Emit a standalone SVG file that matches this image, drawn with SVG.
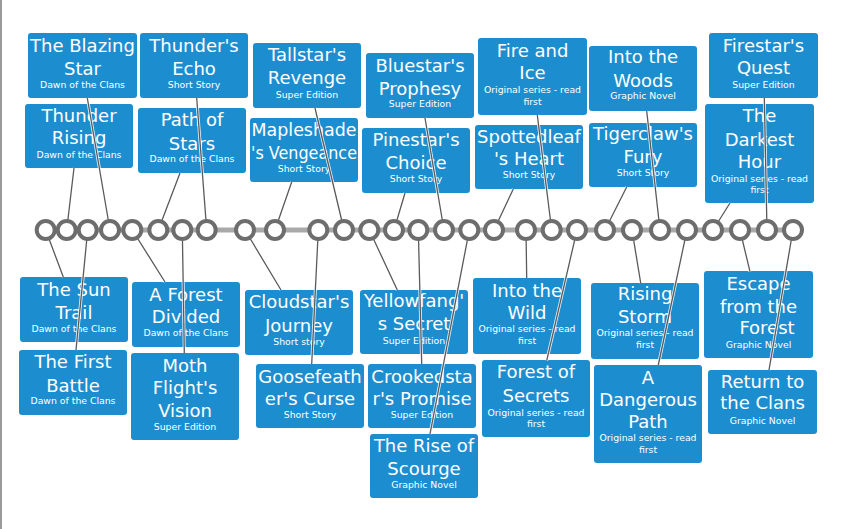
<svg xmlns="http://www.w3.org/2000/svg" width="841" height="529" viewBox="0 0 841 529">
<style>
.box{fill:#1c8ed0;}
.t{font-family:"DejaVu Sans","Verdana",sans-serif;font-size:18px;fill:#fff;text-anchor:middle;}
.s{font-family:"DejaVu Sans","Verdana",sans-serif;font-size:9.3px;fill:#fff;text-anchor:middle;}
.halo{stroke:#fff;stroke-width:3;fill:none;opacity:0.85;}
.ln{stroke:#5a5a5a;stroke-width:1.3;fill:none;}
.dot{fill:#fff;stroke:#6d6d6d;stroke-width:4;}
</style>
<rect x="0" y="0" width="841" height="529" fill="#fff"/>
<line x1="1" y1="0" x2="1" y2="529" stroke="#9a9a9a" stroke-width="2"/>

<g id="blazing-star"><rect class="box" x="28" y="33" width="109" height="65" rx="3"/><text class="t" x="82.5" y="52">The Blazing</text><text class="t" x="82.5" y="75">Star</text><text class="s" x="82.5" y="87.5">Dawn of the Clans</text></g>
<g id="thunders-echo"><rect class="box" x="140" y="33" width="108" height="65" rx="3"/><text class="t" x="194" y="52">Thunder's</text><text class="t" x="194" y="75">Echo</text><text class="s" x="194" y="87.5">Short Story</text></g>
<g id="thunder-rising"><rect class="box" x="25" y="104" width="108" height="64" rx="3"/><text class="t" x="79" y="121.7">Thunder</text><text class="t" x="79" y="144">Rising</text><text class="s" x="79" y="157.5">Dawn of the Clans</text></g>
<g id="path-of-stars"><rect class="box" x="138" y="108" width="108" height="65" rx="3"/><text class="t" x="192" y="126">Path of</text><text class="t" x="192" y="150">Stars</text><text class="s" x="192" y="162">Dawn of the Clans</text></g>
<g id="tallstars-revenge"><rect class="box" x="253" y="43" width="108" height="65" rx="3"/><text class="t" x="307" y="60.5">Tallstar's</text><text class="t" x="307" y="84.2">Revenge</text><text class="s" x="307" y="97.7">Super Edition</text></g>
<g id="bluestars-prophesy"><rect class="box" x="366" y="53" width="108" height="65" rx="3"/><text class="t" x="420" y="71.5">Bluestar's</text><text class="t" x="420" y="94.8">Prophesy</text><text class="s" x="420" y="107.4">Super Edition</text></g>
<g id="mapleshades-vengeance"><rect class="box" x="250" y="118" width="108" height="64" rx="3"/><text class="t" x="304" y="135.8" textLength="105" lengthAdjust="spacingAndGlyphs">Mapleshade</text><text class="t" x="304" y="159.2" textLength="106" lengthAdjust="spacingAndGlyphs">'s Vengeance</text><text class="s" x="304" y="171.7">Short Story</text></g>
<g id="pinestars-choice"><rect class="box" x="362" y="128" width="108" height="65" rx="3"/><text class="t" x="416" y="145.5">Pinestar's</text><text class="t" x="416" y="168.8">Choice</text><text class="s" x="416" y="181.7">Short Story</text></g>
<g id="fire-and-ice"><rect class="box" x="478" y="38" width="109" height="77" rx="3"/><text class="t" x="532.5" y="57.2">Fire and</text><text class="t" x="532.5" y="79.2">Ice</text><text class="s" x="532.5" y="93.4">Original series - read</text><text class="s" x="532.5" y="105.1">first</text></g>
<g id="into-the-woods"><rect class="box" x="589" y="46" width="108" height="65" rx="3"/><text class="t" x="643" y="63.2">Into the</text><text class="t" x="643" y="86.5">Woods</text><text class="s" x="643" y="99.4">Graphic Novel</text></g>
<g id="spottedleafs-heart"><rect class="box" x="475" y="125" width="108" height="64" rx="3"/><text class="t" x="529" y="142.5">Spottedleaf</text><text class="t" x="529" y="164.8">'s Heart</text><text class="s" x="529" y="178.4">Short Story</text></g>
<g id="tigerclaws-fury"><rect class="box" x="589" y="123" width="108" height="64" rx="3"/><text class="t" x="643" y="139.8">Tigerclaw's</text><text class="t" x="643" y="162.5">Fury</text><text class="s" x="643" y="175.7">Short Story</text></g>
<g id="firestars-quest"><rect class="box" x="709" y="33" width="109" height="65" rx="3"/><text class="t" x="763.5" y="51.5">Firestar's</text><text class="t" x="763.5" y="74.2">Quest</text><text class="s" x="763.5" y="87.7">Super Edition</text></g>
<g id="darkest-hour"><rect class="box" x="705" y="104" width="109" height="99" rx="3"/><text class="t" x="759.5" y="122.2">The</text><text class="t" x="759.5" y="145.5">Darkest</text><text class="t" x="759.5" y="168.2">Hour</text><text class="s" x="759.5" y="181.7">Original series - read</text><text class="s" x="759.5" y="193.4">first</text></g>

<g id="sun-trail"><rect class="box" x="20" y="277" width="108" height="65" rx="3"/><text class="t" x="74" y="295.5">The Sun</text><text class="t" x="74" y="318.8">Trail</text><text class="s" x="74" y="331.7">Dawn of the Clans</text></g>
<g id="forest-divided"><rect class="box" x="132" y="282" width="108" height="65" rx="3"/><text class="t" x="186" y="300.5">A Forest</text><text class="t" x="186" y="323.2">Divided</text><text class="s" x="186" y="336.1">Dawn of the Clans</text></g>
<g id="first-battle"><rect class="box" x="19" y="350" width="108" height="65" rx="3"/><text class="t" x="73" y="368.2">The First</text><text class="t" x="73" y="391.5">Battle</text><text class="s" x="73" y="404.4">Dawn of the Clans</text></g>
<g id="moth-flights-vision"><rect class="box" x="131" y="353" width="108" height="87" rx="3"/><text class="t" x="185" y="372.2">Moth</text><text class="t" x="185" y="394.2">Flight's</text><text class="t" x="185" y="417.2">Vision</text><text class="s" x="185" y="430.1">Super Edition</text></g>
<g id="cloudstars-journey"><rect class="box" x="245" y="290" width="108" height="65" rx="3"/><text class="t" x="299" y="308.2">Cloudstar's</text><text class="t" x="299" y="331.5">Journey</text><text class="s" x="299" y="345.1">Short story</text></g>
<g id="yellowfangs-secret"><rect class="box" x="360" y="290" width="108" height="64" rx="3"/><text class="t" x="414" y="307.2">Yellowfang'</text><text class="t" x="414" y="329.8">s Secret</text><text class="s" x="414" y="344.4">Super Edition</text></g>
<g id="goosefeathers-curse"><rect class="box" x="256" y="364" width="108" height="64" rx="3"/><text class="t" x="310" y="382.5">Goosefeath</text><text class="t" x="310" y="404.8">er's Curse</text><text class="s" x="310" y="418.4">Short Story</text></g>
<g id="crookedstars-promise"><rect class="box" x="368" y="364" width="108" height="64" rx="3"/><text class="t" x="422" y="382.5">Crookedsta</text><text class="t" x="422" y="404.8">r's Promise</text><text class="s" x="422" y="417.7">Super Edition</text></g>
<g id="rise-of-scourge"><rect class="box" x="370" y="434" width="108" height="64" rx="3"/><text class="t" x="424" y="451.5">The Rise of</text><text class="t" x="424" y="474.8">Scourge</text><text class="s" x="424" y="488.4">Graphic Novel</text></g>
<g id="into-the-wild"><rect class="box" x="473" y="278" width="108" height="76" rx="3"/><text class="t" x="527" y="296.5">Into the</text><text class="t" x="527" y="318.8">Wild</text><text class="s" x="527" y="332.4">Original series - read</text><text class="s" x="527" y="344.4">first</text></g>
<g id="forest-of-secrets"><rect class="box" x="482" y="360" width="108" height="77" rx="3"/><text class="t" x="536" y="378.2">Forest of</text><text class="t" x="536" y="401.5">Secrets</text><text class="s" x="536" y="415.7">Original series - read</text><text class="s" x="536" y="427.4">first</text></g>
<g id="rising-storm"><rect class="box" x="591" y="283" width="108" height="76" rx="3"/><text class="t" x="645" y="299.8">Rising</text><text class="t" x="645" y="323.2">Storm</text><text class="s" x="645" y="336.1">Original series - read</text><text class="s" x="645" y="348.4">first</text></g>
<g id="dangerous-path"><rect class="box" x="594" y="365" width="108" height="98" rx="3"/><text class="t" x="648" y="383.8">A</text><text class="t" x="648" y="405.8">Dangerous</text><text class="t" x="648" y="428.2">Path</text><text class="s" x="648" y="441.4">Original series - read</text><text class="s" x="648" y="453.4">first</text></g>
<g id="escape-from-the-forest"><rect class="box" x="704" y="271" width="109" height="87" rx="3"/><text class="t" x="758.5" y="289.8">Escape</text><text class="t" x="758.5" y="312.5">from the</text><text class="t" x="767" y="334.2">Forest</text><text class="s" x="758.5" y="347.7">Graphic Novel</text></g>
<g id="return-to-the-clans"><rect class="box" x="708" y="370" width="109" height="64" rx="3"/><text class="t" x="762.5" y="387.5">Return to</text><text class="t" x="762.5" y="409.2">the Clans</text><text class="s" x="762.5" y="424.1">Graphic Novel</text></g>

<g id="connectors">
<g class="halo">
<path d="M87.3 98L110 230M196.7 98L206.7 230M74 168L66.7 230M180 173L158.3 230M315 108L344 230M425 118L444 230M291.7 182L275 230M405 193L394 230M537.3 115L551.7 230M646.7 111L660 230M513.3 189L494 230M626.7 187L605 230M764.3 98L767 230M730 203L713 230"/>
<path d="M63.3 277L45.7 230M76 350L87.7 230M165 282L132.3 230M184.3 353L182.3 230M281 290L245 230M311.7 364L318.3 230M397.3 290L369.3 230M421.7 364L418.3 230M430 434L469.3 230M526.7 278L526 230M546.7 360.7L577 230M640.7 283L632 230M658.3 365L687 230M750 271.7L740 230M769 370L793 230"/>
</g>
<g class="ln">
<path d="M87.3 98L110 230M196.7 98L206.7 230M74 168L66.7 230M180 173L158.3 230M315 108L344 230M425 118L444 230M291.7 182L275 230M405 193L394 230M537.3 115L551.7 230M646.7 111L660 230M513.3 189L494 230M626.7 187L605 230M764.3 98L767 230M730 203L713 230"/>
<path d="M63.3 277L45.7 230M76 350L87.7 230M165 282L132.3 230M184.3 353L182.3 230M281 290L245 230M311.7 364L318.3 230M397.3 290L369.3 230M421.7 364L418.3 230M430 434L469.3 230M526.7 278L526 230M546.7 360.7L577 230M640.7 283L632 230M658.3 365L687 230M750 271.7L740 230M769 370L793 230"/>
</g>
</g>

<g id="timeline">
<line x1="45.7" y1="230" x2="793" y2="230" stroke="#a9a9a9" stroke-width="5"/>
<circle class="dot" cx="45.7" cy="230" r="9"/>
<circle class="dot" cx="66.7" cy="230" r="9"/>
<circle class="dot" cx="87.7" cy="230" r="9"/>
<circle class="dot" cx="110" cy="230" r="9"/>
<circle class="dot" cx="132.3" cy="230" r="9"/>
<circle class="dot" cx="158.3" cy="230" r="9"/>
<circle class="dot" cx="182.3" cy="230" r="9"/>
<circle class="dot" cx="206.7" cy="230" r="9"/>
<circle class="dot" cx="245" cy="230" r="9"/>
<circle class="dot" cx="275" cy="230" r="9"/>
<circle class="dot" cx="318.3" cy="230" r="9"/>
<circle class="dot" cx="344" cy="230" r="9"/>
<circle class="dot" cx="369.3" cy="230" r="9"/>
<circle class="dot" cx="394" cy="230" r="9"/>
<circle class="dot" cx="418.3" cy="230" r="9"/>
<circle class="dot" cx="444" cy="230" r="9"/>
<circle class="dot" cx="469.3" cy="230" r="9"/>
<circle class="dot" cx="494" cy="230" r="9"/>
<circle class="dot" cx="526" cy="230" r="9"/>
<circle class="dot" cx="551.7" cy="230" r="9"/>
<circle class="dot" cx="577" cy="230" r="9"/>
<circle class="dot" cx="605" cy="230" r="9"/>
<circle class="dot" cx="632" cy="230" r="9"/>
<circle class="dot" cx="660" cy="230" r="9"/>
<circle class="dot" cx="687" cy="230" r="9"/>
<circle class="dot" cx="713" cy="230" r="9"/>
<circle class="dot" cx="740" cy="230" r="9"/>
<circle class="dot" cx="767" cy="230" r="9"/>
<circle class="dot" cx="793" cy="230" r="9"/>
</g>
</svg>
